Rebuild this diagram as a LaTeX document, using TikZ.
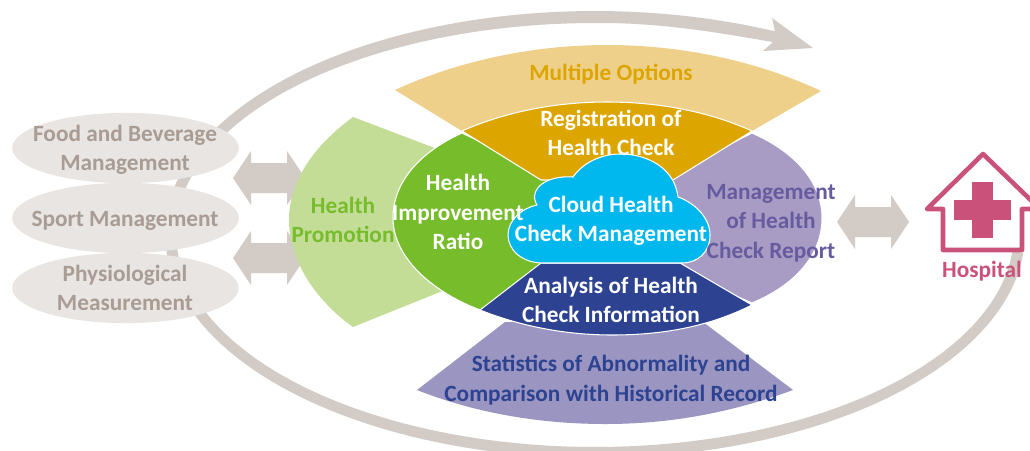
\documentclass[tikz,border=0pt]{standalone}
\usepackage{fontspec}
\setmainfont{Carlito}
\definecolor{ringc}{HTML}{D2CBC6}
\definecolor{ovalc}{HTML}{E8E5E2}
\definecolor{ovaltxt}{HTML}{A89C94}
\definecolor{goldl}{HTML}{EED08B}
\definecolor{goldd}{HTML}{DDA500}
\definecolor{greenl}{HTML}{C3DD97}
\definecolor{greend}{HTML}{76BC2B}
\definecolor{purl}{HTML}{A89CC4}
\definecolor{purtxt}{HTML}{675BA0}
\definecolor{bluel}{HTML}{9A95C1}
\definecolor{blued}{HTML}{2D4391}
\definecolor{cloudc}{HTML}{00B7EE}
\definecolor{hosp}{HTML}{C9517A}
\usetikzlibrary{shapes.geometric}
\tikzset{
  lab/.style={font=\bfseries\fontsize{13.25}{16.7}\selectfont,align=center,inner sep=0pt},
  oval/.style={ellipse,fill=ovalc,minimum width=129pt,minimum height=40pt,inner sep=0pt},
  sector/.style={draw=white,line width=0.6pt,line join=round},
  dbl/.style={fill=ringc}
}
\newcommand{\dblarrow}[2]{%
  \fill[dbl,shift={(#1,#2)}] (-36,0)--(-18,-27)--(-18,-15)--(18,-15)--(18,-27)--(36,0)--(18,27)--(18,15)--(-18,15)--(-18,27)--cycle;}
\begin{document}
\begin{tikzpicture}[x=0.02cm,y=-0.02cm]
\useasboundingbox (0,0) rectangle (1030,450);
\clip (0,0) rectangle (1030,450);
% ring
\fill[ringc] plot[domain=5:294,samples=150] ({595+430*cos(\x)},{233+(\x<180?225:222)*sin(\x)})
  -- (775,31) -- (772,18) -- (813,48) -- (763,51) -- (773,42)
  .. controls (730,35) and (670,23) .. (600,23)
  -- plot[domain=270:5,samples=150] ({595+419*cos(\x)},{233+(\x<180?214:210)*sin(\x)}) -- cycle;
% ovals
\node[oval] (o1) at (125.5,148) {};
\node[oval] (o2) at (125.5,218) {};
\node[oval] (o3) at (125.5,288) {};
\node[lab,text=ovaltxt] (t1) at (125,150) {Food and Beverage\\Management};
\node[lab,text=ovaltxt] (t2) at (125,220.5) {Sport Management};
\node[lab,text=ovaltxt] (t3) at (125,288) {Physiological\\Measurement};
% arrows
\dblarrow{269}{178}
\dblarrow{269}{258}
\dblarrow{873}{222}
% promotion
\fill[greenl] (353,117) .. controls (315,145) and (289,180) .. (289,220) .. controls (289,260) and (315,300) .. (353,327) -- (445,290) -- (440,150) -- cycle;
% options
\fill[goldl] (395,90) .. controls (460,60) and (535,45) .. (607,45) .. controls (680,45) and (755,60) .. (821,91) -- (752,131) -- (462,131) -- cycle;
% statistics
\fill[bluel] (417,390) -- (505,322) -- (703,322) -- (793,390) .. controls (730,413) and (670,424) .. (605,424) .. controls (540,424) and (475,413) .. (417,390) -- cycle;
% sectors
\filldraw[sector,fill=greend] (462,133) .. controls (420,152) and (393,182) .. (393,218) .. controls (393,255) and (428,290) .. (480,310) -- (560,263) -- (560,180) -- cycle;
\filldraw[sector,fill=purl] (752,133) .. controls (795,152) and (822,182) .. (822,218) .. controls (822,255) and (795,285) .. (752,303) -- (660,263) -- (660,180) -- cycle;
\filldraw[sector,fill=goldd] (462,131) .. controls (505,112) and (555,102) .. (607,102) .. controls (660,102) and (710,112) .. (752,131) -- (673,180) -- (541,180) -- cycle;
\filldraw[sector,fill=blued] (480,310) .. controls (520,326) and (565,335) .. (612,335) .. controls (665,335) and (710,326) .. (752,305) -- (680,263) -- (541,263) -- cycle;
% cloud
\filldraw[draw=white,line width=0.6pt,fill=cloudc] (543,263)
  .. controls (522,263) and (508,250) .. (508,235)
  .. controls (508,220) and (522,208) .. (537,205)
  .. controls (528,190) and (545,175) .. (573,177)
  .. controls (585,160) and (605,154) .. (620,154)
  .. controls (650,154) and (675,170) .. (678,197)
  .. controls (695,203) and (710,218) .. (710,235)
  .. controls (710,252) and (698,263) .. (682,263) -- cycle;
% labels
\node[lab,text=goldd] (mo) at (611,74) {Multiple Options};
\node[lab,text=white] (reg) at (611,133) {Registration of\\Health Check};
\node[lab,text=white] (imp) at (458,212) {Health\\Improvement\\Ratio};
\node[lab,text=greend] (hp) at (343,220) {Health\\Promotion};
\node[lab,text=white] (cl) at (611,221) {Cloud Health\\Check Management};
\node[lab,text=purtxt] (mg) at (771,223) {Management\\of Health\\Check Report};
\node[lab,text=white] (an) at (611,300) {Analysis of Health\\Check Information};
\node[lab,text=blued] (st) at (611,380) {Statistics of Abnormality and\\Comparison with Historical Record};
% hospital
\draw[hosp,line width=2.6pt,line join=round,line cap=round] (943,209) -- (927,209) -- (983,154) -- (1040,209) -- (1022,209) -- (1022,250) -- (943,250) -- cycle;
\fill[hosp] (972,182) rectangle (993,238);
\fill[hosp] (954,200) rectangle (1011,220);
\node[lab,text=hosp] (ho) at (982,271) {Hospital};
\end{tikzpicture}
\end{document}
